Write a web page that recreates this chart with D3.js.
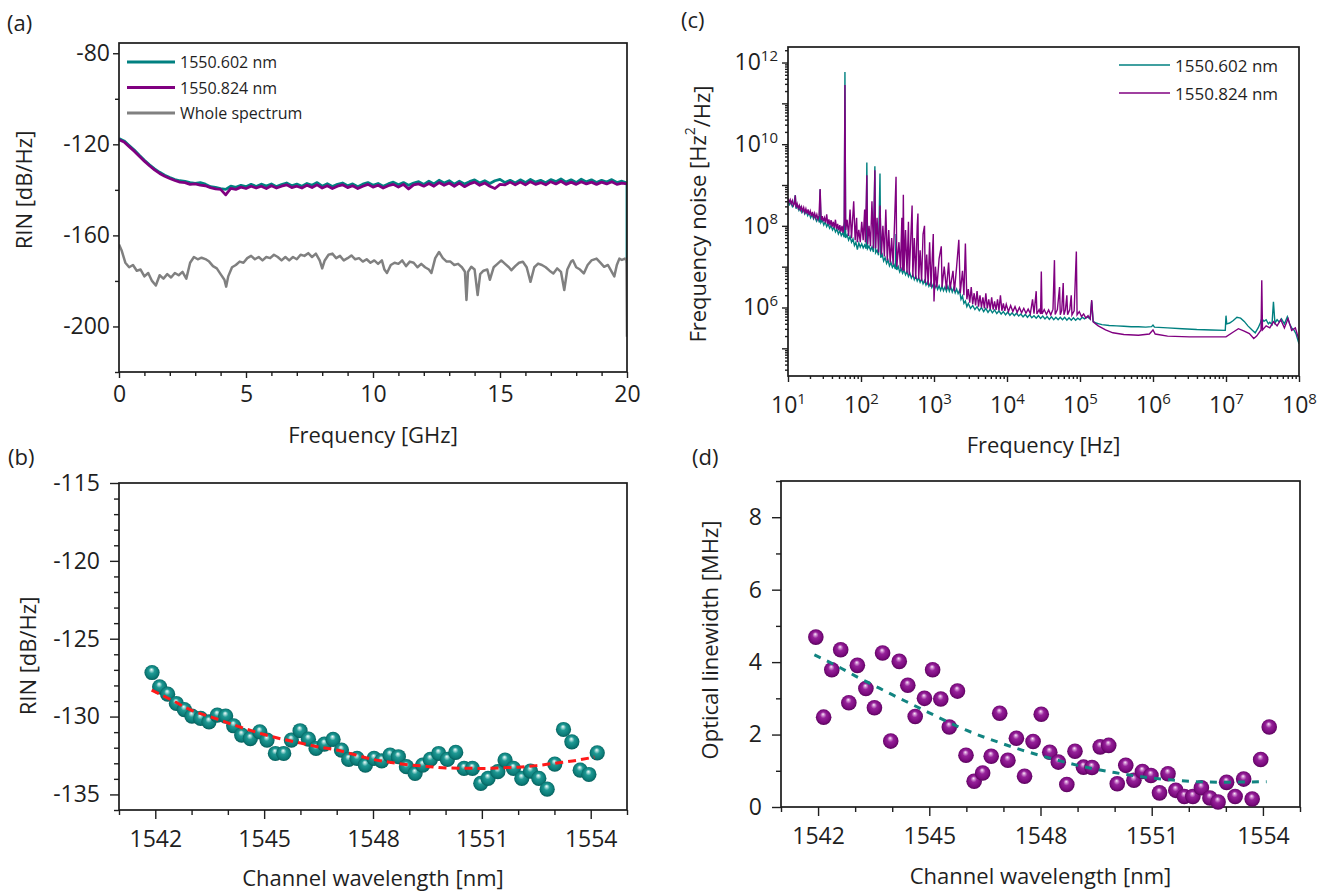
<!DOCTYPE html>
<html>
<head>
<meta charset="utf-8">
<script src="https://cdn.jsdelivr.net/npm/d3@7"></script>
<style>
    body { margin: 0; background: #fff; }
    svg text { font-family: "Open Sans", sans-serif; fill: #1f1f1f; }
    .axis .domain { display: none; }
    .axis line { stroke: #1f1f1f; stroke-width: 1.4; }
    .axis text { font-size: 23px; fill: #1f1f1f; }
    .title { font-size: 22px; }
    .tag { font-size: 22px; }
</style>
</head>
<body>
<svg id="fig" width="1326" height="896"></svg>
<script>
// ---------- (a) RIN spectra, sampled every 0.2 GHz from 0 to 20 GHz ----------
const aStep = 0.2;
const aTeal = [
    -117.5, -118.5, -120.5, -122.5, -124.8, -127, -129, -130.8, -132.3, -133.6,
    -134.6, -135.5, -136, -136.3, -136.8, -137.2, -136.8, -137.5, -138.6, -138.9,
    -139.5, -139.8, -138.4, -138.9, -138, -138.6, -137.6, -138.5, -137.5, -138.3,
    -137.4, -138.6, -137.7, -137, -138.2, -137.5, -138.4, -137.2, -138, -136.8,
    -138.4, -137.3, -138.5, -137.6, -137, -138.2, -137.4, -138.6, -137.5, -136.8,
    -138, -137.2, -138.4, -137.4, -136.6, -137.8, -136.8, -138, -137, -136.4,
    -137.6, -136.2, -137.4, -135.8, -137, -136, -137.5, -136.2, -137.4, -136.4,
    -135.6, -137, -136, -137.2, -136, -135.4, -136.8, -135.8, -137, -135.6,
    -136.8, -135.4, -136.6, -135.8, -136.9, -135.5, -136.4, -135.2, -136.6, -135.6,
    -136.8, -135.3, -136.5, -135.6, -136.8, -135.8, -136.6, -135.5, -136.8, -136.2,
    -137
];
const aTealEdge = -172; // fall at the 20 GHz edge
const aPurple = [
    -118, -119, -121, -123, -125.2, -127.4, -129.4, -131.2, -132.8, -134,
    -135, -135.9, -136.6, -136.8, -137.6, -137.4, -137.9, -138.2, -139, -139.6,
    -139.8, -142.2, -139.4, -139.8, -138.8, -139.4, -138.4, -139.2, -138.4, -139.4,
    -138.2, -139.2, -138.4, -137.8, -139, -138.4, -139.2, -138, -139, -137.8,
    -139.2, -138.2, -139.4, -138.4, -137.8, -139, -138.2, -139.4, -138.4, -137.6,
    -138.8, -138, -139.2, -138.2, -137.6, -138.8, -137.6, -139.6, -137.8, -137.4,
    -138.4, -137.2, -138.4, -136.8, -138, -137, -138.4, -137, -138.6, -137.4,
    -136.6, -138, -137, -138.4, -139.4, -137.6, -137.8, -136.6, -137.8, -136.6,
    -137.8, -136.4, -137.6, -136.8, -137.8, -136.4, -137.4, -136.2, -137.6, -136.6,
    -137.6, -136.4, -137.4, -136.6, -137.6, -136.6, -137.4, -136.4, -137.6, -137,
    -137.4
];
const aGray = [
    [0, -164], [0.1, -166.5], [0.25, -172], [0.4, -174], [0.55, -173], [0.7, -175.5],
    [0.85, -175], [1.0, -178], [1.15, -176.5], [1.3, -180], [1.45, -182], [1.6, -177.5],
    [1.75, -179], [1.9, -177], [2.05, -178.5], [2.2, -176.5], [2.35, -177.5], [2.5, -176],
    [2.65, -179], [2.8, -172], [2.95, -169.5], [3.1, -170.5], [3.25, -169.8], [3.4, -170.4],
    [3.55, -171.5], [3.7, -173.5], [3.85, -174.5], [4.0, -177], [4.15, -179.5], [4.22, -182.5],
    [4.3, -178], [4.45, -174], [4.6, -173], [4.75, -171.5], [4.9, -172], [5.05, -170],
    [5.2, -169], [5.35, -170.5], [5.5, -169.5], [5.65, -171], [5.8, -169.5], [5.95, -170],
    [6.1, -168.5], [6.25, -169.5], [6.4, -171], [6.55, -169.5], [6.7, -171], [6.85, -169.5],
    [7.0, -170.5], [7.15, -168.5], [7.3, -169], [7.45, -167.8], [7.6, -169.5], [7.75, -168],
    [7.9, -171], [8.0, -174.5], [8.1, -171], [8.25, -168.5], [8.4, -168], [8.55, -170],
    [8.7, -169], [8.85, -171], [9.0, -170], [9.15, -168.8], [9.3, -170.5], [9.45, -170],
    [9.6, -171.5], [9.75, -170.5], [9.9, -172], [10.05, -171], [10.2, -172.5], [10.35, -171],
    [10.45, -175], [10.55, -176.5], [10.7, -173], [10.85, -172], [11.0, -172.5], [11.15, -171],
    [11.3, -173.5], [11.45, -171.5], [11.6, -172], [11.75, -174], [11.9, -172.5], [12.05, -174],
    [12.2, -175], [12.3, -176.5], [12.45, -170], [12.6, -167.3], [12.75, -170], [12.9, -171.5],
    [13.05, -171.5], [13.2, -173], [13.35, -172.5], [13.5, -174], [13.62, -176], [13.68, -188.4],
    [13.74, -176], [13.87, -173.8], [14.0, -175], [14.12, -186.2], [14.22, -177], [14.35, -175.5],
    [14.5, -175], [14.6, -179.5], [14.75, -174], [14.9, -172.5], [15.05, -171], [15.2, -172.5],
    [15.35, -174], [15.45, -175.3], [15.6, -173.5], [15.75, -172], [15.9, -171.6], [16.05, -174],
    [16.2, -180.4], [16.35, -174], [16.5, -172.4], [16.65, -173], [16.8, -174], [16.95, -175.5],
    [17.1, -176.7], [17.25, -174.5], [17.4, -176], [17.53, -184], [17.65, -175], [17.8, -171.5],
    [17.87, -170.9], [18.0, -174], [18.15, -175], [18.3, -176.7], [18.45, -173], [18.6, -171],
    [18.8, -170.2], [18.95, -172], [19.1, -173.8], [19.25, -173], [19.4, -176], [19.5, -178],
    [19.6, -173], [19.7, -170.2], [19.8, -170.8], [19.92, -170.2], [19.98, -171], [20.0, -204.5]
];
const aLegend = ['1550.602 nm', '1550.824 nm', 'Whole spectrum'];

// ---------- (b) RIN per channel ----------
const bWavelength = [
    1541.91, 1542.12, 1542.34, 1542.58, 1542.8, 1543.01, 1543.25, 1543.48, 1543.71, 1543.94,
    1544.16, 1544.38, 1544.62, 1544.88, 1545.08, 1545.31, 1545.54, 1545.75, 1545.99, 1546.22,
    1546.43, 1546.66, 1546.9, 1547.13, 1547.33, 1547.56, 1547.79, 1548.03, 1548.24, 1548.47,
    1548.7, 1548.92, 1549.16, 1549.37, 1549.58, 1549.81, 1550.05, 1550.28, 1550.51, 1550.74,
    1550.97, 1551.17, 1551.44, 1551.64, 1551.87, 1552.1, 1552.34, 1552.57, 1552.8, 1553.01,
    1553.25, 1553.48, 1553.71, 1553.95, 1554.18
];
const bRin = [
    -127.17, -128.09, -128.56, -129.16, -129.55, -129.97, -130.12, -130.34, -129.91, -129.97,
    -130.59, -131.19, -131.41, -130.98, -131.51, -132.37, -132.37, -131.51, -130.91, -131.45,
    -132.05, -131.77, -131.47, -132.15, -132.75, -132.69, -133.12, -132.69, -132.84, -132.47,
    -132.58, -133.22, -133.65, -133.12, -132.75, -132.37, -132.75, -132.3, -133.33, -133.33,
    -134.29, -133.97, -133.54, -132.79, -133.33, -133.97, -133.5, -133.97, -134.66, -133.05,
    -130.83, -131.62, -133.44, -133.72, -132.33
];
const fitWavelength = [
    1541.9, 1542.5, 1543, 1543.5, 1544, 1544.5, 1545, 1545.5, 1546, 1546.5, 1547, 1547.5,
    1548, 1548.5, 1549, 1549.5, 1550, 1550.5, 1551, 1551.5, 1552, 1552.5, 1553, 1553.5, 1554.1
];
const bFit = [
    -128.3, -129.0, -129.6, -130.0, -130.4, -130.8, -131.15, -131.45, -131.7, -131.95, -132.15, -132.45,
    -132.75, -132.95, -133.1, -133.2, -133.3, -133.32, -133.33, -133.3, -133.25, -133.15, -133.0, -132.85, -132.6
];

// ---------- (c) frequency noise, [log10 f (Hz), log10 S (Hz^2/Hz)] ----------
const cTeal = [
    [1.00, 8.62], [1.02, 8.52], [1.04, 8.58], [1.06, 8.47], [1.08, 8.53], [1.10, 8.75], [1.11, 8.42],
    [1.13, 8.50], [1.15, 8.38], [1.17, 8.45], [1.19, 8.33], [1.21, 8.40], [1.23, 8.29], [1.25, 8.36],
    [1.27, 8.25], [1.29, 8.32], [1.31, 8.20], [1.33, 8.28], [1.35, 8.17], [1.37, 8.24], [1.39, 8.12],
    [1.41, 8.20], [1.43, 8.08], [1.44, 8.89], [1.45, 8.08], [1.47, 8.14], [1.49, 8.02], [1.51, 8.10],
    [1.53, 7.98], [1.55, 8.05], [1.57, 7.94], [1.59, 8.01], [1.61, 7.90], [1.63, 7.97], [1.65, 7.85],
    [1.67, 7.92], [1.69, 7.80], [1.71, 7.88], [1.73, 7.76], [1.75, 7.83], [1.77, 7.72], [1.78, 11.77],
    [1.79, 7.70], [1.81, 7.78], [1.83, 7.65], [1.85, 7.74], [1.87, 7.60], [1.89, 7.68], [1.91, 7.52],
    [1.93, 7.60], [1.95, 7.42], [1.97, 7.58], [1.99, 7.48], [2.01, 7.56], [2.03, 7.46], [2.05, 7.53],
    [2.07, 7.44], [2.08, 9.55], [2.09, 7.44], [2.11, 7.50], [2.13, 7.40], [2.15, 7.48], [2.17, 7.36],
    [2.19, 9.46], [2.20, 7.34], [2.22, 7.40], [2.24, 7.28], [2.26, 9.28], [2.27, 7.22], [2.29, 7.30],
    [2.31, 7.14], [2.33, 7.22], [2.35, 7.08], [2.37, 7.16], [2.39, 7.02], [2.41, 7.10], [2.43, 6.98],
    [2.45, 7.05], [2.47, 6.94], [2.48, 7.80], [2.49, 6.92], [2.51, 7.00], [2.53, 6.87], [2.55, 6.95],
    [2.57, 6.84], [2.59, 6.92], [2.61, 6.80], [2.63, 6.88], [2.65, 6.76], [2.67, 6.84], [2.69, 6.72],
    [2.71, 6.80], [2.73, 6.68], [2.75, 6.77], [2.77, 6.65], [2.79, 6.73], [2.81, 6.62], [2.83, 6.70],
    [2.85, 6.58], [2.87, 6.66], [2.89, 6.55], [2.91, 6.63], [2.93, 6.52], [2.95, 6.60], [2.97, 6.49],
    [2.99, 6.57], [3.01, 6.46], [3.03, 6.55], [3.05, 6.44], [3.07, 6.53], [3.09, 6.42], [3.11, 6.52],
    [3.13, 6.41], [3.15, 6.50], [3.17, 6.40], [3.19, 6.52], [3.21, 6.40], [3.23, 6.50], [3.25, 6.38],
    [3.27, 6.48], [3.29, 6.36], [3.31, 6.45], [3.33, 6.34], [3.35, 6.42], [3.37, 6.20], [3.39, 6.28],
    [3.41, 6.10], [3.43, 6.16], [3.45, 6.02], [3.47, 6.10], [3.50, 5.98], [3.53, 6.05], [3.56, 5.95],
    [3.59, 6.02], [3.62, 5.92], [3.65, 6.00], [3.68, 5.90], [3.71, 5.98], [3.74, 5.88], [3.77, 5.96],
    [3.80, 5.87], [3.83, 5.94], [3.86, 5.85], [3.89, 5.92], [3.92, 5.84], [3.95, 5.90], [3.98, 5.82],
    [4.01, 5.89], [4.04, 5.81], [4.07, 5.87], [4.10, 5.80], [4.13, 5.86], [4.16, 5.79], [4.19, 5.84],
    [4.22, 5.77], [4.25, 5.83], [4.28, 5.76], [4.31, 5.82], [4.34, 5.75], [4.37, 5.80], [4.40, 5.74],
    [4.43, 5.80], [4.46, 5.73], [4.49, 5.79], [4.52, 5.72], [4.55, 5.78], [4.58, 5.71], [4.61, 5.77],
    [4.64, 5.70], [4.67, 5.76], [4.70, 5.70], [4.73, 5.76], [4.76, 5.70], [4.79, 5.76], [4.82, 5.69],
    [4.85, 5.75], [4.88, 5.69], [4.91, 5.75], [4.94, 5.69], [4.97, 5.74], [5.00, 5.70], [5.03, 5.76],
    [5.06, 5.72], [5.10, 5.77], [5.14, 5.72], [5.16, 6.15], [5.18, 5.66], [5.22, 5.62], [5.26, 5.60],
    [5.30, 5.58], [5.40, 5.56], [5.50, 5.55], [5.60, 5.54], [5.70, 5.53], [5.80, 5.53], [5.90, 5.52],
    [5.98, 5.53], [6.00, 5.57], [6.02, 5.52], [6.20, 5.50], [6.40, 5.48], [6.60, 5.46], [6.80, 5.45],
    [6.99, 5.44], [7.00, 5.80], [7.01, 5.60], [7.05, 5.62], [7.10, 5.68], [7.15, 5.76], [7.20, 5.74],
    [7.25, 5.66], [7.30, 5.55], [7.35, 5.46], [7.40, 5.38], [7.44, 5.50], [7.47, 5.62], [7.49, 5.73],
    [7.52, 5.66], [7.55, 5.70], [7.58, 5.60], [7.60, 5.64], [7.63, 5.58], [7.65, 6.14], [7.67, 5.62],
    [7.70, 5.70], [7.73, 5.64], [7.76, 5.72], [7.80, 5.60], [7.84, 5.77], [7.87, 5.60], [7.90, 5.50],
    [7.93, 5.45], [7.96, 5.35], [8.00, 5.11]
];
const cPurple = [
    [1.00, 8.68], [1.015, 8.58], [1.03, 8.64], [1.045, 8.54], [1.06, 8.62], [1.075, 8.50], [1.09, 8.56],
    [1.10, 8.75], [1.11, 8.45], [1.125, 8.54], [1.14, 8.43], [1.155, 8.50], [1.17, 8.39], [1.185, 8.47],
    [1.20, 8.36], [1.215, 8.45], [1.23, 8.33], [1.245, 8.42], [1.26, 8.30], [1.275, 8.40], [1.29, 8.27],
    [1.305, 8.36], [1.32, 8.24], [1.335, 8.34], [1.35, 8.22], [1.365, 8.31], [1.38, 8.19], [1.395, 8.28],
    [1.41, 8.16], [1.425, 8.25], [1.44, 8.90], [1.455, 8.14], [1.47, 8.24], [1.485, 8.11], [1.50, 8.20],
    [1.515, 8.08], [1.53, 8.28], [1.545, 8.04], [1.56, 8.16], [1.575, 8.01], [1.59, 8.14], [1.605, 7.98],
    [1.62, 8.10], [1.635, 7.95], [1.65, 8.15], [1.665, 7.92], [1.68, 8.05], [1.695, 7.89], [1.71, 8.02],
    [1.725, 7.86], [1.74, 8.00], [1.755, 7.83], [1.77, 8.10], [1.78, 11.45], [1.79, 7.90], [1.81, 8.15],
    [1.83, 7.75], [1.85, 8.40], [1.87, 7.70], [1.90, 8.60], [1.92, 7.65], [1.94, 8.20], [1.95, 7.60],
    [1.97, 7.90], [1.99, 7.60], [2.01, 8.10], [2.03, 7.65], [2.05, 8.40], [2.06, 7.60], [2.08, 9.24],
    [2.09, 7.55], [2.11, 8.00], [2.13, 7.50], [2.15, 8.60], [2.17, 7.45], [2.19, 9.36], [2.20, 7.45],
    [2.22, 8.20], [2.24, 7.35], [2.26, 8.50], [2.28, 7.30], [2.30, 8.00], [2.32, 7.25], [2.34, 8.40],
    [2.36, 7.15], [2.38, 7.90], [2.40, 7.10], [2.42, 7.70], [2.44, 7.05], [2.46, 8.10], [2.48, 9.20],
    [2.49, 7.00], [2.52, 7.60], [2.54, 6.95], [2.56, 8.20], [2.57, 6.90], [2.58, 8.76], [2.59, 6.90],
    [2.61, 7.90], [2.63, 6.85], [2.65, 8.10], [2.66, 6.80], [2.68, 7.60], [2.70, 8.50], [2.71, 6.75],
    [2.73, 7.70], [2.75, 6.70], [2.77, 8.00], [2.78, 8.30], [2.79, 6.70], [2.81, 7.40], [2.83, 6.65],
    [2.85, 7.80], [2.87, 8.00], [2.88, 6.60], [2.90, 7.30], [2.92, 6.55], [2.94, 7.60], [2.96, 6.50],
    [2.99, 7.80], [3.00, 6.15], [3.02, 7.00], [3.04, 6.50], [3.07, 7.20], [3.10, 7.50], [3.11, 6.50],
    [3.14, 7.00], [3.17, 6.45], [3.20, 7.10], [3.22, 6.45], [3.26, 6.90], [3.28, 6.40], [3.31, 7.00],
    [3.34, 7.66], [3.36, 6.35], [3.39, 6.90], [3.41, 6.30], [3.43, 7.57], [3.45, 6.20], [3.47, 6.45],
    [3.49, 6.12], [3.51, 6.50], [3.53, 6.08], [3.55, 6.35], [3.57, 6.05], [3.59, 6.40], [3.61, 6.02],
    [3.63, 6.30], [3.65, 6.00], [3.67, 6.25], [3.69, 5.98], [3.71, 6.35], [3.73, 5.98], [3.75, 6.20],
    [3.77, 5.96], [3.79, 6.25], [3.81, 5.95], [3.83, 6.15], [3.85, 5.94], [3.87, 6.20], [3.89, 5.93],
    [3.91, 6.30], [3.93, 5.92], [3.95, 6.10], [3.97, 5.92], [3.99, 6.08], [4.02, 5.90], [4.05, 6.05],
    [4.08, 5.90], [4.11, 6.02], [4.14, 5.88], [4.17, 6.00], [4.20, 5.87], [4.23, 5.98], [4.26, 5.86],
    [4.29, 5.96], [4.32, 5.85], [4.35, 6.20], [4.37, 5.85], [4.40, 6.40], [4.41, 5.84], [4.44, 5.95],
    [4.46, 5.84], [4.47, 6.88], [4.48, 5.84], [4.51, 5.95], [4.54, 5.83], [4.57, 5.94], [4.60, 5.82],
    [4.63, 5.96], [4.65, 7.16], [4.66, 5.83], [4.69, 5.95], [4.72, 6.50], [4.73, 5.82], [4.75, 5.93],
    [4.77, 6.60], [4.78, 5.82], [4.80, 5.94], [4.82, 6.30], [4.83, 5.82], [4.86, 5.95], [4.88, 6.30],
    [4.89, 5.82], [4.92, 5.92], [4.95, 7.37], [4.96, 5.82], [4.99, 5.90], [5.02, 5.78], [5.05, 5.84],
    [5.08, 5.74], [5.11, 5.80], [5.14, 5.72], [5.16, 6.18], [5.18, 5.65], [5.25, 5.55], [5.35, 5.45],
    [5.45, 5.38], [5.60, 5.34], [5.80, 5.32], [5.95, 5.35], [6.00, 5.45], [6.03, 5.35], [6.20, 5.30],
    [6.50, 5.28], [6.80, 5.28], [7.00, 5.28], [7.10, 5.40], [7.17, 5.48], [7.25, 5.42], [7.32, 5.36],
    [7.38, 5.24], [7.42, 5.30], [7.48, 5.45], [7.49, 6.67], [7.50, 5.45], [7.55, 5.55], [7.60, 5.50],
    [7.65, 5.65], [7.70, 5.55], [7.75, 5.70], [7.80, 5.50], [7.85, 5.73], [7.90, 5.44], [7.95, 5.50],
    [8.00, 5.20]
];
const cLegend = ['1550.602 nm', '1550.824 nm'];

// ---------- (d) optical linewidth per channel ----------
const dWavelength = [
    1541.94, 1542.15, 1542.37, 1542.61, 1542.83, 1543.06, 1543.29, 1543.52, 1543.74, 1543.96,
    1544.19, 1544.42, 1544.62, 1544.87, 1545.09, 1545.31, 1545.54, 1545.76, 1545.99, 1546.21,
    1546.44, 1546.67, 1546.9, 1547.12, 1547.35, 1547.57, 1547.8, 1548.02, 1548.25, 1548.48,
    1548.71, 1548.93, 1549.16, 1549.39, 1549.61, 1549.84, 1550.07, 1550.3, 1550.52, 1550.75,
    1550.98, 1551.21, 1551.44, 1551.65, 1551.88, 1552.11, 1552.34, 1552.57, 1552.79, 1553.02,
    1553.25, 1553.48, 1553.71, 1553.94, 1554.17
];
const dLinewidth = [
    4.69, 2.48, 3.79, 4.34, 2.88, 3.91, 3.27, 2.74, 4.25, 1.82,
    4.02, 3.36, 2.5, 3.0, 3.79, 2.98, 2.21, 3.2, 1.43, 0.71,
    0.94, 1.4, 2.59, 1.29, 1.9, 0.85, 1.81, 2.56, 1.51, 1.24,
    0.62, 1.54, 1.1, 1.09, 1.66, 1.7, 0.64, 1.15, 0.74, 0.98,
    0.87, 0.39, 0.92, 0.46, 0.29, 0.29, 0.53, 0.25, 0.14, 0.68,
    0.29, 0.77, 0.22, 1.31, 2.21
];
const dFit = [
    4.2, 3.9, 3.62, 3.36, 3.1, 2.85, 2.6, 2.35, 2.12, 1.92, 1.74, 1.57,
    1.42, 1.28, 1.15, 1.04, 0.95, 0.87, 0.8, 0.75, 0.71, 0.69, 0.68, 0.69, 0.7
];

const TEAL = '#008080';
const PURPLE = '#800080';
const GRAY = '#808080';
const INK = '#1a1a1a';

const svg = d3.select('#fig');

// Sphere shading for the scatter markers
const defs = svg.append('defs');
function sphereGradient(id, stops) {
    const g = defs.append('radialGradient').attr('id', id)
        .attr('cx', '50%').attr('cy', '50%').attr('r', '55%')
        .attr('fx', '46%').attr('fy', '30%');
    stops.forEach(([o, c]) => g.append('stop').attr('offset', o).attr('stop-color', c));
}
sphereGradient('ballTeal', [['0%', '#f2fbfa'], ['15%', '#9fd8d5'], ['36%', '#1f9994'], ['75%', '#0b7b77'], ['100%', '#045350']]);
sphereGradient('ballPurple', [['0%', '#fbeefb'], ['15%', '#d28fd3'], ['36%', '#96229a'], ['75%', '#7a0a7d'], ['100%', '#4c004e']]);

function frame(box) {
    svg.append('rect')
        .attr('x', box.l).attr('y', box.t)
        .attr('width', box.r - box.l).attr('height', box.b - box.t)
        .attr('fill', 'none').attr('stroke', INK).attr('stroke-width', 1.7);
}

function plain(d) { return String(d); }

function bottomAxis(scale, box, majors, minors, o) {
    svg.append('g').attr('class', 'axis')
        .attr('transform', `translate(0,${box.b})`)
        .call(d3.axisBottom(scale).tickValues(minors).tickSize(o.minor).tickSizeOuter(0).tickFormat(''));
    return svg.append('g').attr('class', 'axis')
        .attr('transform', `translate(0,${box.b})`)
        .call(d3.axisBottom(scale).tickValues(majors).tickSize(o.major).tickSizeOuter(0)
            .tickPadding(o.pad).tickFormat(o.fmt || plain));
}

function leftAxis(scale, box, majors, minors, o) {
    svg.append('g').attr('class', 'axis')
        .attr('transform', `translate(${box.l},0)`)
        .call(d3.axisLeft(scale).tickValues(minors).tickSize(o.minor).tickSizeOuter(0).tickFormat(''));
    return svg.append('g').attr('class', 'axis')
        .attr('transform', `translate(${box.l},0)`)
        .call(d3.axisLeft(scale).tickValues(majors).tickSize(o.major).tickSizeOuter(0)
            .tickPadding(o.pad).tickFormat(o.fmt || plain));
}

function powerLabels(g) {
    g.selectAll('text').each(function(d) {
        const t = d3.select(this);
        if (t.text() === '') return;
        t.text(null);
        t.append('tspan').text('10');
        t.append('tspan').attr('dy', '-0.62em').attr('font-size', '15px').text(Math.round(Math.log10(d)));
    });
}

function tag(x, y, s) {
    svg.append('text').attr('class', 'tag').attr('x', x).attr('y', y).text(s);
}

function xTitle(box, y, s) {
    svg.append('text').attr('class', 'title').attr('text-anchor', 'middle')
        .attr('x', (box.l + box.r) / 2).attr('y', y).text(s);
}

function yTitle(x, y) {
    return svg.append('text').attr('class', 'title').attr('text-anchor', 'middle')
        .attr('dominant-baseline', 'central')
        .attr('transform', `translate(${x},${y}) rotate(-90)`);
}

function clip(id, box) {
    defs.append('clipPath').attr('id', id).append('rect')
        .attr('x', box.l).attr('y', box.t).attr('width', box.r - box.l).attr('height', box.b - box.t);
}

// ================= (a) =================
const A = { l: 119, r: 627, t: 43, b: 372 };
const ax = d3.scaleLinear().domain([0, 20]).range([A.l, A.r]);
const ay = d3.scaleLinear().domain([-220, -75.5]).range([A.b, A.t]);
clip('clipA', A);

const aLine = d3.line().x(d => ax(d[0])).y(d => ay(d[1]));
const tealA = aTeal.map((v, i) => [i * aStep, v]).concat([[20, aTealEdge]]);
const purpleA = aPurple.map((v, i) => [i * aStep, v]);

const gA = svg.append('g').attr('clip-path', 'url(#clipA)');
gA.append('path').datum(tealA).attr('d', aLine)
    .attr('fill', 'none').attr('stroke', TEAL).attr('stroke-width', 2.8).attr('stroke-linejoin', 'round');
gA.append('path').datum(purpleA).attr('d', aLine)
    .attr('fill', 'none').attr('stroke', PURPLE).attr('stroke-width', 2.8).attr('stroke-linejoin', 'round');
gA.append('path').datum(aGray).attr('d', aLine)
    .attr('fill', 'none').attr('stroke', GRAY).attr('stroke-width', 2.5).attr('stroke-linejoin', 'round');

bottomAxis(ax, A, [0, 5, 10, 15, 20], d3.range(1, 20).filter(v => v % 5), { major: 6, minor: 4, pad: 8 });
leftAxis(ay, A, [-80, -120, -160, -200], [-100, -140, -180, -220], { major: 6, minor: 4, pad: 3 });
frame(A);

[TEAL, PURPLE, GRAY].forEach((c, i) => {
    const y = 62 + i * 25.5;
    svg.append('line').attr('x1', 127).attr('x2', 175).attr('y1', y).attr('y2', y)
        .attr('stroke', c).attr('stroke-width', 3);
    svg.append('text').attr('x', 180).attr('y', y).attr('dominant-baseline', 'central')
        .style('font-size', '16px').text(aLegend[i]);
});

tag(7, 31, '(a)');
xTitle(A, 443, 'Frequency [GHz]');
yTitle(23, 190).text('RIN [dB/Hz]');

// ================= (b) =================
const B = { l: 119, r: 627, t: 483, b: 810 };
const bx = d3.scaleLinear().domain([1541, 1555]).range([B.l, B.r]);
const by = d3.scaleLinear().domain([-136, -115]).range([B.b, B.t]);
const wlMajors = [1542, 1545, 1548, 1551, 1554];
const wlMinors = d3.range(1541, 1556).filter(v => !wlMajors.includes(v));

bottomAxis(bx, B, wlMajors, wlMinors, { major: 9, minor: 5, pad: 12 });
leftAxis(by, B, [-115, -120, -125, -130, -135],
    d3.range(-136, -115).filter(v => v % 5), { major: 9, minor: 5, pad: 10 });
frame(B);

svg.append('g').selectAll('circle')
    .data(bWavelength.map((w, i) => [w, bRin[i]]))
    .join('circle')
    .attr('cx', d => bx(d[0])).attr('cy', d => by(d[1])).attr('r', 7.6)
    .attr('fill', 'url(#ballTeal)');

svg.append('path')
    .datum(fitWavelength.map((w, i) => [w, bFit[i]]))
    .attr('d', d3.line().curve(d3.curveMonotoneX).x(d => bx(d[0])).y(d => by(d[1])))
    .attr('fill', 'none').attr('stroke', '#ff1a1a').attr('stroke-width', 3)
    .attr('stroke-dasharray', '8 5');

tag(8, 465, '(b)');
xTitle(B, 886, 'Channel wavelength [nm]');
yTitle(27, 656).text('RIN [dB/Hz]');

// ================= (c) =================
const C = { l: 788, r: 1299, t: 47, b: 376 };
const cx = d3.scaleLog().domain([10, 1e8]).range([C.l, C.r]);
const cy = d3.scaleLog().domain([2.1e4, 2.4e12]).range([C.b, C.t]);
clip('clipC', C);

const cLine = d3.line().x(d => cx(Math.pow(10, d[0]))).y(d => cy(Math.pow(10, d[1])));
const gC = svg.append('g').attr('clip-path', 'url(#clipC)');
gC.append('path').datum(cTeal).attr('d', cLine)
    .attr('fill', 'none').attr('stroke', TEAL).attr('stroke-width', 1.4);
gC.append('path').datum(cPurple).attr('d', cLine)
    .attr('fill', 'none').attr('stroke', PURPLE).attr('stroke-width', 1.4);

const decadesX = d3.range(1, 9).map(e => Math.pow(10, e));
const minorsX = [];
d3.range(1, 8).forEach(e => d3.range(2, 10).forEach(k => minorsX.push(k * Math.pow(10, e))));
powerLabels(bottomAxis(cx, C, decadesX, minorsX, { major: 6, minor: 3, pad: 15 }));

const minorsY = [];
d3.range(4, 13).forEach(e => d3.range(2, 10).forEach(k => {
    const v = k * Math.pow(10, e);
    if (v > 2.1e4 && v < 2.4e12) minorsY.push(v);
}));
svg.append('g').attr('class', 'axis').attr('transform', `translate(${C.l},0)`)
    .call(d3.axisLeft(cy).tickValues([1e5, 1e7, 1e9, 1e11]).tickSize(6).tickSizeOuter(0).tickFormat(''));
powerLabels(leftAxis(cy, C, [1e6, 1e8, 1e10, 1e12], minorsY, { major: 6, minor: 3, pad: 4 }));
frame(C);

[TEAL, PURPLE].forEach((c, i) => {
    const y = 65 + i * 28;
    svg.append('line').attr('x1', 1119).attr('x2', 1170).attr('y1', y).attr('y2', y)
        .attr('stroke', c).attr('stroke-width', 1.4);
    svg.append('text').attr('x', 1175).attr('y', y).attr('dominant-baseline', 'central')
        .style('font-size', '17px').text(cLegend[i]);
});

tag(681, 28, '(c)');
xTitle(C, 453, 'Frequency [Hz]');
const ct = yTitle(697, 214);
ct.append('tspan').text('Frequency noise [Hz');
ct.append('tspan').attr('dy', '-0.55em').attr('font-size', '14px').text('2');
ct.append('tspan').attr('dy', '0.55em').text('/Hz]');

// ================= (d) =================
const D = { l: 781, r: 1300, t: 481, b: 807 };
const dx = d3.scaleLinear().domain([1541, 1555]).range([D.l, D.r]);
const dy = d3.scaleLinear().domain([0, 9]).range([D.b, D.t]);

bottomAxis(dx, D, wlMajors, wlMinors, { major: 9, minor: 5, pad: 12 });
leftAxis(dy, D, [0, 2, 4, 6, 8], [1, 3, 5, 7, 9], { major: 9, minor: 5, pad: 10 });
frame(D);

svg.append('g').selectAll('circle')
    .data(dWavelength.map((w, i) => [w, dLinewidth[i]]))
    .join('circle')
    .attr('cx', d => dx(d[0])).attr('cy', d => dy(d[1])).attr('r', 7.8)
    .attr('fill', 'url(#ballPurple)');

svg.append('path')
    .datum(fitWavelength.map((w, i) => [w, dFit[i]]))
    .attr('d', d3.line().curve(d3.curveMonotoneX).x(d => dx(d[0])).y(d => dy(d[1])))
    .attr('fill', 'none').attr('stroke', '#128481').attr('stroke-width', 3)
    .attr('stroke-dasharray', '7 7');

tag(692, 465, '(d)');
xTitle(D, 884, 'Channel wavelength [nm]');
yTitle(709, 640).text('Optical linewidth [MHz]');
</script>
</body>
</html>
